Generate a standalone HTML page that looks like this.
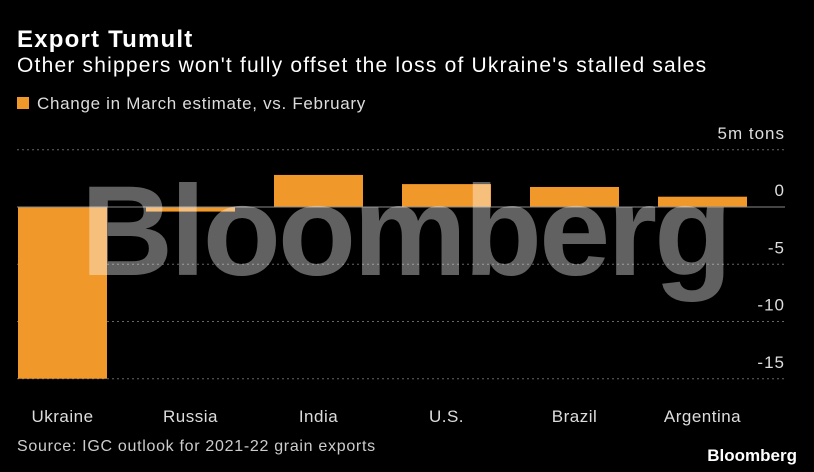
<!DOCTYPE html>
<html><head><meta charset="utf-8"><style>
html,body{margin:0;padding:0;background:#000;}
body{width:814px;height:472px;overflow:hidden;font-family:"Liberation Sans",sans-serif;color:#fff;position:relative}
.t{position:absolute;white-space:nowrap}
</style></head><body>
<div class="t" style="left:17px;top:26px;font-size:24px;font-weight:bold;letter-spacing:1.2px">Export Tumult</div>
<div class="t" style="left:17px;top:54px;font-size:21px;letter-spacing:1.2px">Other shippers won't fully offset the loss of Ukraine's stalled sales</div>
<div class="t" style="left:17px;top:94px;font-size:17px;color:#ddd;letter-spacing:0.7px"><span style="display:inline-block;width:12px;height:12px;background:#f0982a;margin-right:8px"></span>Change in March estimate, vs. February</div>
<svg id="c" width="814" height="472" style="position:absolute;left:0;top:0"></svg>
<div class="t" style="left:17px;top:438px;font-size:16px;color:#ccc;letter-spacing:0.7px">Source: IGC outlook for 2021-22 grain exports</div>
<div class="t" style="right:17px;top:446px;font-size:17px;font-weight:bold">Bloomberg</div>
<script>
const categories=["Ukraine","Russia","India","U.S.","Brazil","Argentina"];
const values=[-15,-0.4,2.8,2.0,1.75,0.9];
const ticks=[5,0,-5,-10,-15];
const tickLabels=["5m tons","0","-5","-10","-15"];
const NS="http://www.w3.org/2000/svg",svg=document.getElementById('c');
const y=v=>207-v*11.45;
const x0=18,step=128,bw=89;
function mk(t,a,txt){const e=document.createElementNS(NS,t);for(const k in a)e.setAttribute(k,a[k]);if(txt!=null)e.textContent=txt;svg.appendChild(e);return e;}
ticks.forEach((t,i)=>{
 if(t!==0){const g=mk('line',{x1:17,x2:785,y1:y(t),y2:y(t),stroke:'#666','stroke-dasharray':'2,3','stroke-width':1});
 
 }
 const l=mk('text',{x:785,y:y(t)-11,'text-anchor':'end','font-size':17,fill:'#ddd','font-family':'Liberation Sans','letter-spacing':1},tickLabels[i]);
 
 
});
categories.forEach((c,i)=>{
 const v=values[i],x=x0+i*step;
 const r=mk('rect',{x:x,y:Math.min(y(0),y(v)),width:bw,height:Math.abs(y(v)-y(0)),fill:'#f0982a'});
 
 
 const l=mk('text',{x:x+bw/2,y:422,'text-anchor':'middle','font-size':17,fill:'#ddd','font-family':'Liberation Sans','letter-spacing':0.5},c);
 
 
});
const z=mk('line',{x1:17,x2:785,y1:y(0),y2:y(0),stroke:'#888','stroke-width':1});


const w=mk('text',{x:405,y:275,'text-anchor':'middle','font-size':128,'font-weight':'bold',fill:'#fff','fill-opacity':0.38,'font-family':'Liberation Sans','letter-spacing':-3},'Bloomberg');


</script>
</body></html>
